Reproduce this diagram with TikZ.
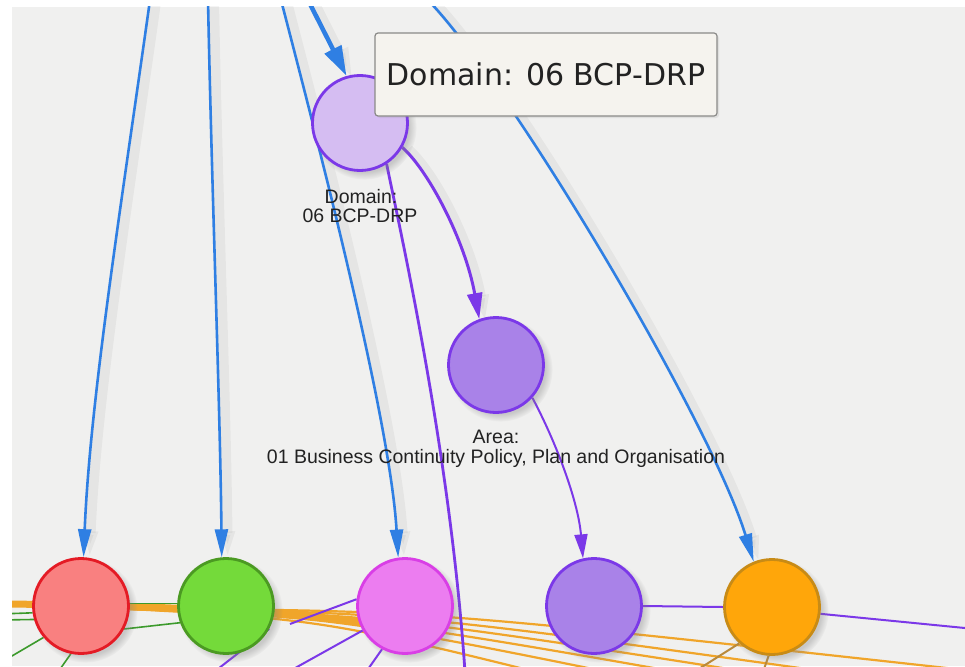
\documentclass[tikz,border=0pt]{standalone}
\usepackage{fontspec}
\setmainfont{Liberation Sans}
\newfontfamily\tipfont{DejaVu Sans}
\usetikzlibrary{arrows.meta,shadows}

\definecolor{canvas}{HTML}{F0F0EF}
\definecolor{linkblue}{HTML}{2F7FE3}
\definecolor{linkpurple}{HTML}{7B38E8}
\definecolor{linkorange}{HTML}{F0A52A}
\definecolor{linkgreen}{HTML}{3C9A2C}
\definecolor{linktan}{HTML}{B98A3C}
\definecolor{domfill}{HTML}{D5BDF2}
\definecolor{areafill}{HTML}{A982E8}
\definecolor{redfill}{HTML}{F98080}
\definecolor{redline}{HTML}{E41B25}
\definecolor{greenfill}{HTML}{74DA3A}
\definecolor{greenline}{HTML}{4B9A22}
\definecolor{pinkfill}{HTML}{EC7DF0}
\definecolor{pinkline}{HTML}{D93EE6}
\definecolor{amberfill}{HTML}{FFA60A}
\definecolor{amberline}{HTML}{C88B16}
\definecolor{tipfill}{HTML}{F5F3EE}
\definecolor{tipborder}{HTML}{8A8A88}
\definecolor{labeltext}{HTML}{222222}

\pgfdeclarelayer{back}
\pgfdeclarelayer{links}
\pgfsetlayers{back,links,main}

\begin{document}
\begin{tikzpicture}[x=1pt,y=-1pt,
  vertex/.style={circle, minimum size=95pt, inner sep=0pt, line width=2.8pt,
    circular drop shadow={shadow xshift=4pt, shadow yshift=-4pt, opacity=0.35}},
  softshade/.style={preaction={draw=black, opacity=0.045, line width=10pt,
    transform canvas={shift={(6pt,-2pt)}}}},
  bluelink/.style={draw=linkblue, line width=2.6pt, softshade,
    -{Triangle[length=28pt,width=13pt]}},
  heavylink/.style={draw=linkblue, line width=4.5pt, softshade,
    -{Triangle[length=30pt,width=18pt]}},
  purplelink/.style={draw=linkpurple, line width=3pt, softshade,
    -{Triangle[length=26pt,width=15pt]}},
  thinpurple/.style={draw=linkpurple, line width=2pt},
  fanline/.style={draw=linkorange, line width=2.2pt},
  greenline/.style={draw=linkgreen, line width=1.6pt},
  nodelabel/.style={anchor=base, inner sep=0pt, text=labeltext,
    font=\fontsize{19.5}{20}\selectfont},
]
\useasboundingbox (0,0) rectangle (965,666);

% backdrop
\begin{pgfonlayer}{back}
  \fill[white] (0,0) rectangle (965,666);
  \fill[canvas] (12,7) rectangle (965,666);
\end{pgfonlayer}

% nodes
\node[vertex, fill=domfill, draw=linkpurple] (domain) at (360,123) {};
\node[vertex, fill=areafill, draw=linkpurple] (area) at (496,365) {};
\node[vertex, fill=redfill, draw=redline] (red) at (81,606) {};
\node[vertex, fill=greenfill, draw=greenline] (green) at (226,606) {};
\node[vertex, fill=pinkfill, draw=pinkline] (pink) at (405,606) {};
\node[vertex, fill=areafill, draw=linkpurple] (violet) at (594,606) {};
\node[vertex, fill=amberfill, draw=amberline] (amber) at (772,607) {};

% free ends of links leaving the visible area
\coordinate (topA) at (150,0);
\coordinate (topB) at (208,0);
\coordinate (topC) at (281,0);
\coordinate (topD) at (308,0);
\coordinate (topE) at (428,0);
\coordinate (downP) at (465,672);
\coordinate (rightP) at (975,629);
\coordinate (bandstart) at (0,604);
\coordinate (bandend) at (362,622);
\coordinate (fanroot) at (130,609);

\begin{pgfonlayer}{links}
\begin{scope}
  \clip (12,7) rectangle (965,666);

  % dense bundle along the bottom row
  \draw[linkorange, line width=7pt] (bandstart) .. controls (150,605) and (280,612) .. (bandend);
  \foreach \cx/\cy/\ex/\ey in {420/610/965/670, 400/612/900/682,
      380/614/850/688, 360/616/790/692, 345/618/720/695, 330/620/640/698}
    \draw[fanline] (fanroot) .. controls (\cx,\cy) .. (\ex,\ey);

  \draw[greenline] (red.3) -- (green.177);
  \draw[greenline] (0,614) -- (red.188);
  \draw[greenline] (0,620) -- (red.196);
  \draw[greenline] (0,663) -- (red.-140);
  \draw[greenline] (58,672) -- (red.-102);
  \draw[greenline] (red.-28) -- (green.-160);

  \draw[thinpurple] (green.-28) -- (214,672);
  \draw[thinpurple] (288,672) -- (pink.-150);
  \draw[thinpurple] (366,672) -- (pink.-118);
  \draw[thinpurple] (290,624) -- (pink.172);
  \draw[thinpurple] (violet.east) -- (amber.west);
  \draw[thinpurple] (amber.-8) -- (rightP);
  \draw[linktan, line width=2pt] (amber.-132) -- (694,672);
  \draw[linktan, line width=2pt] (amber.-94) -- (763,672);

  % links from above
  \draw[bluelink] (topA) .. controls (122,200) and (90,400) .. (red.87);
  \draw[bluelink] (topB) .. controls (212,200) and (220,400) .. (green.95);
  \draw[bluelink] (topC) .. controls (320,150) and (390,420) .. (pink.98);
  \draw[heavylink] (topD) -- (domain.106);
  \draw[bluelink] (topE) .. controls (510,85) and (710,420) .. (amber.112);

  % links leaving the domain and area nodes
  \draw[purplelink] (domain.-30) .. controls (428,170) and (465,240) .. (area.110);
  \draw[thinpurple, line width=2.8pt] (domain.-57) .. controls (400,230) and (450,450) .. (downP);
  \draw[thinpurple, -{Triangle[length=24pt,width=13pt]}]
    (area.-42) .. controls (555,440) and (578,500) .. (violet.103);
\end{scope}
\end{pgfonlayer}

% node captions
\node[nodelabel] (domcapA) at (361,203) {Domain:};
\node[nodelabel] (domcapB) at (360,222) {06 BCP-DRP};
\node[nodelabel] (areacapA) at (496,443) {Area:};
\node[nodelabel] (areacapB) at (496,463) {01 Business Continuity Policy, Plan and Organisation};

% hover box
\node[draw=tipborder, fill=tipfill, rounded corners=3pt, line width=1.2pt,
  minimum width=342pt, minimum height=83pt, inner sep=0pt, text=labeltext,
  font=\tipfont\fontsize{30}{36}\selectfont,
  drop shadow={shadow xshift=2pt, shadow yshift=-2pt, opacity=0.15}]
  (tip) at (546,74.5) {Domain: 06 BCP-DRP};
\end{tikzpicture}
\end{document}
